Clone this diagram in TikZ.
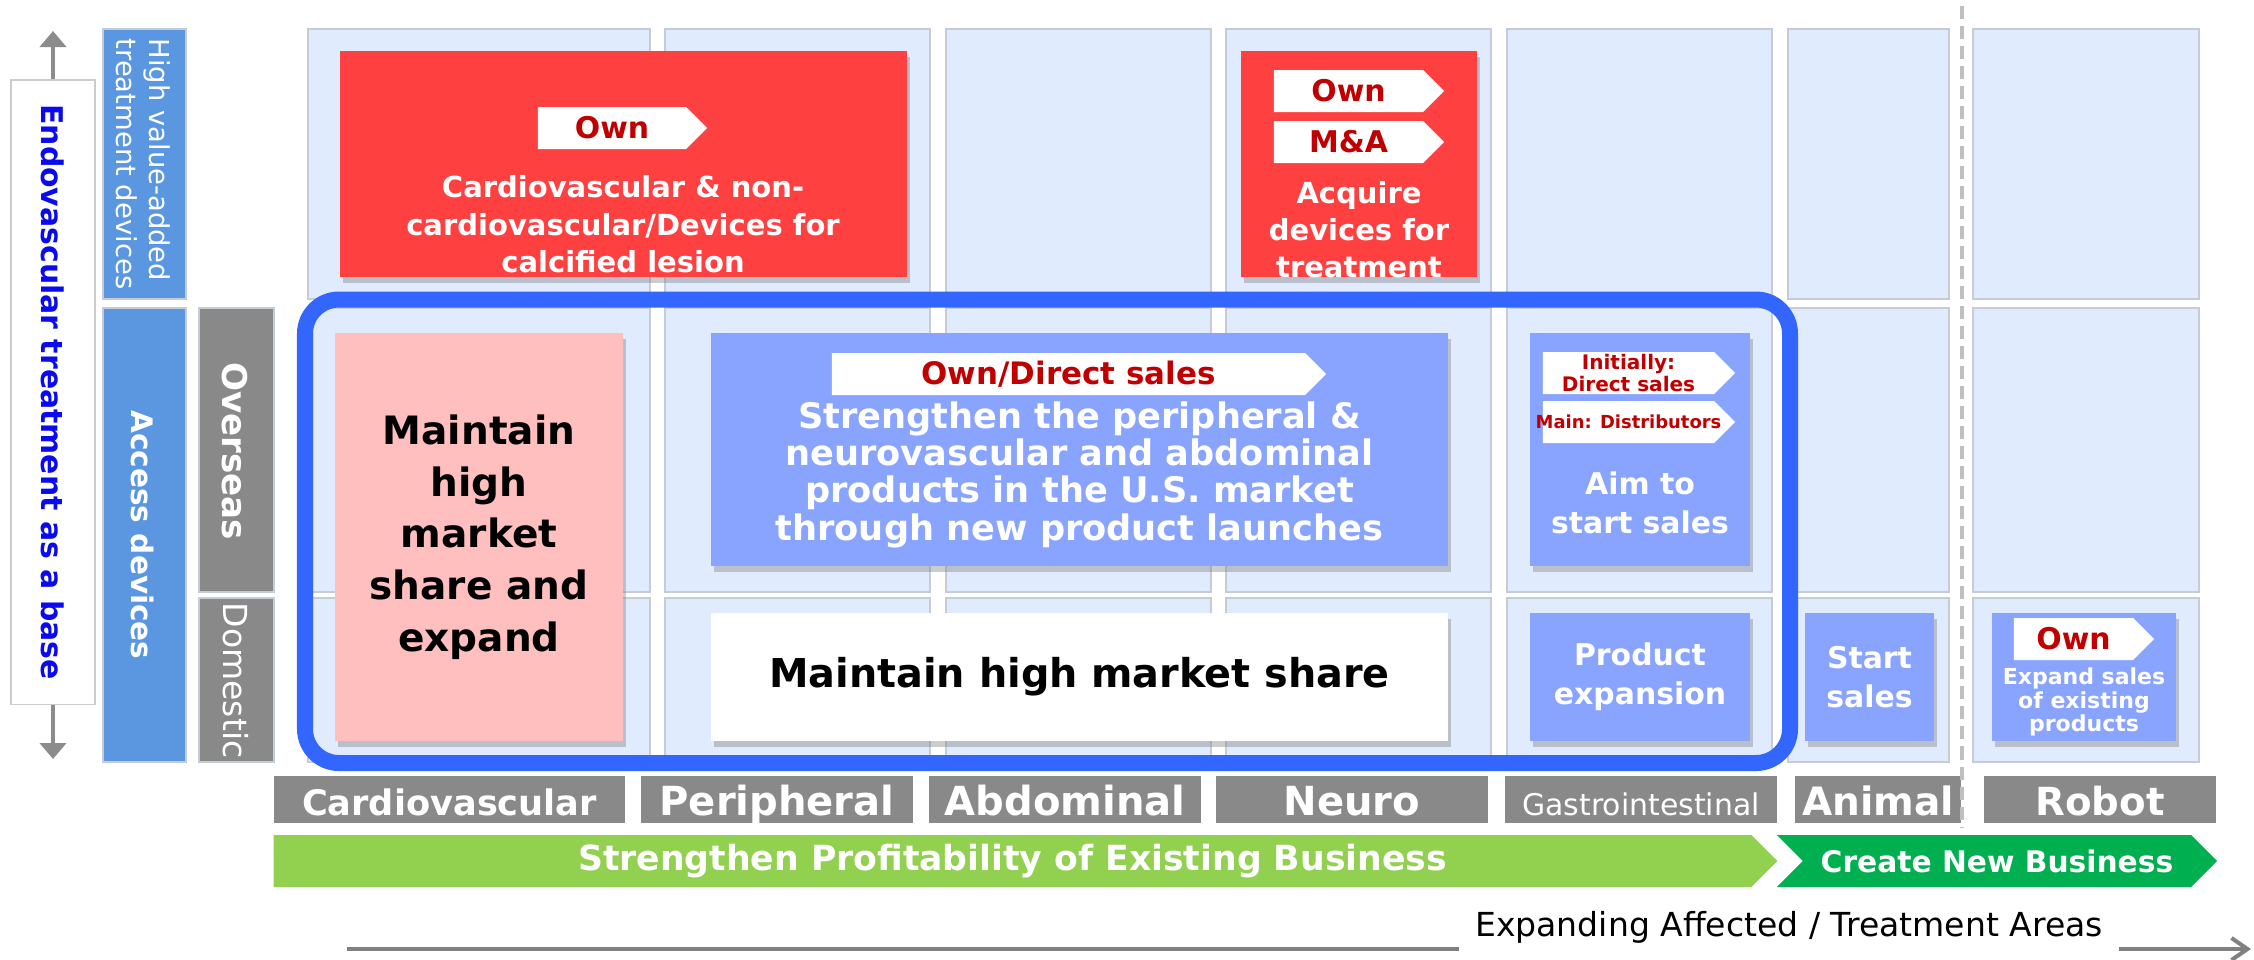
\documentclass[tikz,border=0pt]{standalone}
\usepackage{fontspec}
\setmainfont{DejaVu Sans}
\usetikzlibrary{shapes.symbols,shadows,arrows.meta}
\definecolor{cellbg}{HTML}{E0EBFD}
\definecolor{cellln}{HTML}{C5CCD8}
\definecolor{redbg}{HTML}{FF4041}
\definecolor{tagred}{HTML}{C00000}
\definecolor{peri}{HTML}{88A4FF}
\definecolor{pinkbg}{HTML}{FFBFBF}
\definecolor{sideblue}{HTML}{5B97E0}
\definecolor{catgray}{HTML}{898989}
\definecolor{lgreen}{HTML}{92D050}
\definecolor{dgreen}{HTML}{00B050}
\definecolor{frameblue}{HTML}{3366FF}
\definecolor{endoblue}{HTML}{0A0AF0}
\def\fsz#1#2{\fontsize{#1}{#2}\selectfont}
\tikzset{
  cell/.style={fill=cellbg,draw=cellln,line width=0.5pt},
  boxshadow/.style={drop shadow={shadow xshift=0.03cm,shadow yshift=-0.06cm,opacity=0.4}},
  redbox/.style={fill=redbg,boxshadow,inner sep=0pt},
  pinkbox/.style={fill=pinkbg,boxshadow,inner sep=0pt,align=center},
  peribox/.style={fill=peri,boxshadow,inner sep=0pt,align=center,text=white,font=\bfseries\fsz{8.5}{11}},
  whitebox/.style={fill=white,boxshadow,inner sep=0pt},
  boxtxt/.style={text=white,align=center,inner sep=0pt},
  tagbox/.style={signal,signal to=east,signal pointer angle=90,fill=white,text=tagred,
    inner sep=0pt,minimum height=0.42cm,font=\bfseries\fsz{8.5}{9}},
  sidebox/.style={inner sep=0pt,draw=cellln,line width=0.4pt},
  sidetxt/.style={rotate=-90,text=white,inner sep=0pt},
  catbar/.style={fill=catgray,text=white,inner sep=0pt,minimum height=0.47cm,
    text height=1.9ex,text depth=0.25ex,font=\bfseries\fsz{11.4}{12}},
  arrowbar/.style={signal,signal to=east,signal pointer angle=90,inner sep=0pt,
    minimum height=0.52cm,text=white},
  frame/.style={draw=frameblue,line width=0.16cm,rounded corners=0.34cm},
  updown/.style={draw=gray!90,line width=0.045cm,-{Triangle[length=0.16cm,width=0.26cm]}},
  axis/.style={draw=gray,line width=0.04cm,-{Straight Barb[length=0.16cm,width=0.22cm]}},
  sepline/.style={draw=black!25,line width=0.04cm,dash pattern=on 0.13cm off 0.07cm}
}
\begin{document}
\begin{tikzpicture}[x=0.01cm,y=-0.01cm]
\useasboundingbox (0,0) rectangle (2254,959);
\foreach \xa/\xb in {308/650,665/930,946/1211,1226/1491,1507/1772,1788/1949,1973/2199}
  \foreach \ya/\yb in {29/299,308/592,598/762}
    \draw[cell] (\xa,\ya) rectangle (\xb,\yb);
\draw[frame] (305,299.5) rectangle (1790,763);

\node[sidebox,fill=white,draw=black!20,minimum width=0.84cm,minimum height=6.24cm] (endo) at (53,392) {};
\node[sidetxt,text=endoblue,font=\bfseries\fsz{8.5}{10}] (endotxt) at (endo) {Endovascular treatment as a base};
\coordinate (uptip) at (53,31);
\coordinate (downtip) at (53,759);
\draw[updown] (endo.north) -- (uptip);
\draw[updown] (endo.south) -- (downtip);

\node[sidebox,fill=sideblue,minimum width=0.83cm,minimum height=2.70cm] (hv) at (144.5,164) {};
\node[sidetxt,align=left,font=\fsz{7.8}{9.4}] (hvtxt) at (143.5,164) {High value-added\\treatment devices};
\node[sidebox,fill=sideblue,minimum width=0.83cm,minimum height=4.54cm] (access) at (144.5,535) {};
\node[sidetxt,font=\bfseries\fsz{8.4}{9}] (accesstxt) at (143,535) {Access devices};
\node[sidebox,fill=catgray,minimum width=0.75cm,minimum height=2.84cm] (over) at (236.5,450) {};
\node[sidetxt,font=\bfseries\fsz{9.7}{10}] (overtxt) at (235,451) {Overseas};
\node[sidebox,fill=catgray,minimum width=0.75cm,minimum height=1.64cm] (dom) at (236.5,680) {};
\node[sidetxt,font=\fsz{9.4}{10}] (domtxt) at (236,680.5) {Domestic};

\node[redbox,minimum width=5.67cm,minimum height=2.26cm] (cvhigh) at (623.5,164) {};
\node[tagbox,minimum width=1.69cm] (cvown) at (612,128) {Own};
\node[boxtxt,font=\bfseries\fsz{8.25}{10.67}] (cvtxt) at (623,224.5) {Cardiovascular \& non-\\cardiovascular/Devices for\\calcified lesion};
\node[redbox,minimum width=2.36cm,minimum height=2.26cm] (nrhigh) at (1359,164) {};
\node[tagbox,minimum width=1.70cm] (nrown) at (1348.5,91) {Own};
\node[tagbox,minimum width=1.70cm] (nrma) at (1348.5,142) {M\&A};
\node[boxtxt,font=\bfseries\fsz{8.25}{10.5}] (nrtxt) at (1359,230) {Acquire\\devices for\\treatment};

\node[pinkbox,minimum width=2.88cm,minimum height=4.08cm,font=\bfseries\fsz{11.1}{14.7}] (cvacc) at (479,537) {Maintain\\high\\market\\share and\\expand};
\node[peribox,minimum width=7.37cm,minimum height=2.33cm] (usacc) at (1079.5,449.5) {};
\node[tagbox,minimum width=4.94cm,font=\bfseries\fsz{8.8}{9}] (ustag) at (1068.5,374) {Own/Direct sales};
\node[boxtxt,font=\bfseries\fsz{10}{10.6}] (ustxt) at (1079.5,474.5) {Strengthen the peripheral \&\\neurovascular and abdominal\\products in the U.S. market\\through new product launches};
\node[whitebox,minimum width=7.37cm,minimum height=1.28cm,font=\bfseries\fsz{11.3}{12}] (jpacc) at (1079.5,677) {Maintain high market share};

\node[peribox,minimum width=2.205cm,minimum height=2.33cm] (giover) at (1640,449.5) {};
\node[tagbox,minimum width=1.92cm,align=center,font=\bfseries\fsz{5.7}{6.26}] (giinit) at (1628.5,373) {Initially:\\Direct sales};
\node[tagbox,minimum width=1.92cm,font=\bfseries\fsz{5.1}{6}] (gimain) at (1628.5,422) {\makebox[0pt]{Main: Distributors}};
\node[boxtxt,font=\bfseries\fsz{8.5}{11.1}] (gitxt) at (1640,502.5) {Aim to\\start sales};
\node[peribox,minimum width=2.205cm,minimum height=1.28cm] (gidom) at (1640,677) {Product\\expansion};
\node[peribox,minimum width=1.29cm,minimum height=1.28cm] (anidom) at (1869.5,677) {Start\\sales};
\node[peribox,minimum width=1.84cm,minimum height=1.28cm] (robdom) at (2084,677) {};
\node[tagbox,minimum width=1.40cm] (robown) at (2073.5,639) {Own};
\node[boxtxt,font=\bfseries\fsz{6.26}{6.7}] (robtxt) at (2084,702) {Expand sales\\of existing\\products};

\node[catbar,minimum width=3.51cm,font=\bfseries\fsz{10}{11}] (cardio) at (449.5,799.5) {Cardiovascular};
\node[catbar,minimum width=2.715cm] (peri) at (777,799.5) {Peripheral};
\node[catbar,minimum width=2.715cm] (abdo) at (1065,799.5) {Abdominal};
\node[catbar,minimum width=2.715cm] (neuro) at (1352,799.5) {Neuro};
\node[catbar,minimum width=2.72cm,font=\fsz{8.5}{9}] (gastro) at (1641,799.5) {Gastrointestinal};
\node[catbar,minimum width=1.66cm,font=\bfseries\fsz{11.1}{12}] (animal) at (1878,799.5) {Animal};
\node[catbar,minimum width=2.32cm,font=\bfseries\fsz{11}{12}] (robot) at (2100,799.5) {Robot};

\node[arrowbar,fill=lgreen,minimum width=15.03cm,font=\bfseries\fsz{9.85}{10}] (exist) at (1012.5,861) {Strengthen Profitability of Existing Business};
\node[arrowbar,fill=dgreen,signal from=west,minimum width=4.40cm,font=\bfseries\fsz{8.45}{9}] (newbiz) at (1997,861) {Create New Business};

\coordinate (septop) at (1962,6);
\coordinate (sepbot) at (1962,828);
\draw[sepline] (septop) -- (sepbot);

\coordinate (axstart) at (347,949);
\coordinate (axend) at (2251,949);
\draw[axis] (axstart) -- (axend);
\node[fill=white,inner xsep=0.16cm,inner ysep=0pt,minimum height=0.6cm,font=\fsz{9.4}{10}] (axlabel) at (1789,927) {Expanding Affected / Treatment Areas};
\end{tikzpicture}
\end{document}
